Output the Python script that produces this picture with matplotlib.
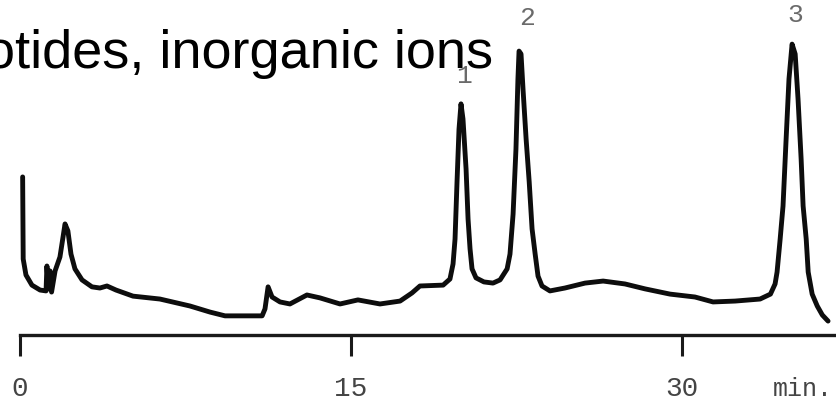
import numpy as np
import matplotlib.pyplot as plt

# chromatogram trace, retention time (min) vs detector response (relative units)
time_min = [0.12, 0.145, 0.27, 0.54, 0.91, 1.18, 1.22, 1.29, 1.36, 1.43,
            1.59, 1.81, 1.95, 2.04, 2.17, 2.31, 2.49, 2.81, 3.26, 3.62,
            3.94, 4.35, 5.12, 6.34, 7.70, 8.61, 9.29, 10.97, 11.10, 11.24,
            11.42, 11.78, 12.23, 13.00, 13.59, 14.50, 15.31, 16.31, 17.22, 17.76,
            18.12, 19.17, 19.48, 19.62, 19.71, 19.80, 19.89, 19.98, 20.07, 20.21,
            20.30, 20.39, 20.48, 20.66, 21.02, 21.43, 21.75, 22.07, 22.20, 22.34,
            22.47, 22.56, 22.61, 22.70, 22.79, 22.93, 23.07, 23.20, 23.34, 23.47,
            23.65, 24.01, 24.69, 25.60, 26.42, 27.41, 28.32, 29.45, 30.58, 31.40,
            32.40, 33.53, 34.00, 34.21, 34.30, 34.44, 34.57, 34.71, 34.84, 34.98,
            35.12, 35.25, 35.39, 35.48, 35.62, 35.71, 35.89, 36.12, 36.35, 36.61]
response = [54.5, 26.2, 20.7, 17.2, 15.5, 15.2, 23.8, 15.9, 22.1, 14.8,
            22.1, 26.9, 33.8, 38.3, 35.9, 27.9, 22.8, 19.0, 16.6, 16.2,
            16.9, 15.5, 13.4, 12.4, 10.0, 7.9, 6.6, 6.6, 9.0, 16.6,
            13.1, 11.4, 10.7, 13.8, 12.8, 10.7, 12.1, 10.7, 11.7, 14.5,
            16.9, 17.2, 19.3, 24.5, 33.1, 52.8, 71.0, 79.7, 74.5, 57.2,
            40.0, 29.7, 22.8, 19.7, 18.3, 17.9, 19.0, 22.8, 27.9, 41.7,
            64.1, 88.3, 97.9, 96.9, 84.8, 67.6, 52.8, 36.6, 27.9, 20.3,
            16.9, 15.2, 16.2, 17.9, 18.6, 17.6, 15.9, 14.1, 13.1, 11.4,
            11.7, 12.4, 14.1, 17.6, 21.7, 33.1, 44.5, 67.6, 88.3, 100.3,
            96.9, 81.4, 60.7, 44.5, 33.1, 21.7, 14.1, 10.0, 6.9, 4.8]

peak_names = ['1', '2', '3']
peak_times = [19.98, 22.61, 34.98]

tick_values = [0, 15, 30]
tick_labels = ['0', '15', '30']

t = np.array(time_min)
r = np.array(response)

fig = plt.figure(figsize=(8.36, 4.02), dpi=100)
ax = fig.add_axes([0, 0, 1, 1])

ax.plot(t, r, color='#0d0d0d', lw=3.5, solid_joinstyle='round', solid_capstyle='round')

ax.set_xlim(-0.906, 36.97)
ax.set_ylim(-22.76, 115.86)

# only the time axis is shown
for side in ['top', 'left', 'right']:
    ax.spines[side].set_visible(False)
ax.spines['bottom'].set_position(('data', 0))
ax.spines['bottom'].set_bounds(0, 36.97)
ax.spines['bottom'].set_linewidth(2.4)
ax.spines['bottom'].set_color('#1a1a1a')
ax.set_yticks([])
ax.set_xticks(tick_values)
ax.set_xticklabels(tick_labels, family='Liberation Mono', fontsize=20, color='#444444')
ax.tick_params(axis='x', direction='out', length=15, width=2.2, color='#1a1a1a', pad=14)

fig.text(803 / 836, 6 / 402, 'min.', family='Liberation Mono', fontsize=18,
         color='#444444', ha='center', va='baseline')

# peak numbers above each apex
offsets = [(2, 12), (6, 16), (2, 13)]
for name, pt, off in zip(peak_names, peak_times, offsets):
    i = np.argmin(np.abs(t - pt))
    ax.annotate(name, xy=(t[i], r[i]), xytext=off, textcoords='offset points',
                ha='center', va='bottom', family='Liberation Mono', fontsize=19,
                color='#6a6a6a')

fig.text(-0.018, 1 - 68 / 402, 'otides, inorganic ions', family='Liberation Sans',
         fontsize=39, color='black', ha='left', va='baseline')

fig.savefig('out.png', dpi=100)
